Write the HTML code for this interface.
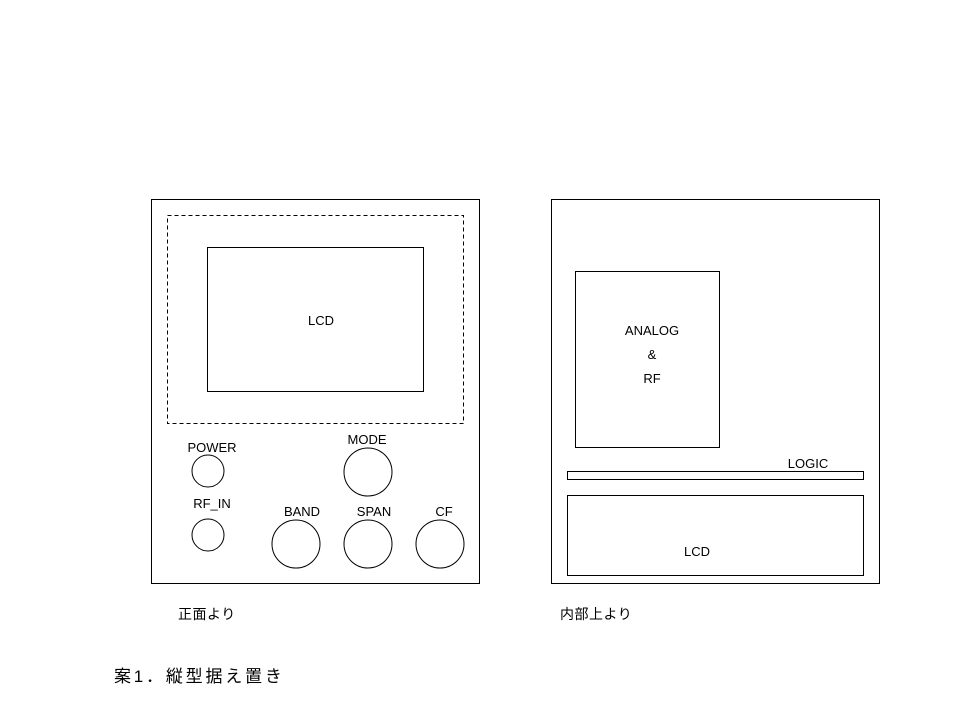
<!DOCTYPE html>
<html><head><meta charset="utf-8"><style>
html,body{margin:0;padding:0;background:#fff;}
svg{display:block;}
text{font-family:"Liberation Sans","Noto Sans CJK JP",sans-serif;font-size:13px;fill:#000;}
</style></head><body>
<svg width="960" height="720" viewBox="0 0 960 720" xmlns="http://www.w3.org/2000/svg">
<g fill="none" stroke="#000" stroke-width="1">
<rect x="151.5" y="199.5" width="328" height="384"/>
<rect x="167.5" y="215.5" width="296" height="208" stroke-dasharray="4,3"/>
<rect x="207.5" y="247.5" width="216" height="144"/>
<circle cx="208" cy="471" r="16"/>
<circle cx="208" cy="535" r="16"/>
<circle cx="368" cy="472" r="24"/>
<circle cx="296" cy="544" r="24"/>
<circle cx="368" cy="544" r="24"/>
<circle cx="440" cy="544" r="24"/>
<rect x="551.5" y="199.5" width="328" height="384"/>
<rect x="575.5" y="271.5" width="144" height="176"/>
<rect x="567.5" y="471.5" width="296" height="8"/>
<rect x="567.5" y="495.5" width="296" height="80"/>
</g>
<text x="321" y="325" text-anchor="middle">LCD</text>
<text x="212" y="452" text-anchor="middle">POWER</text>
<text x="212" y="508" text-anchor="middle">RF_IN</text>
<text x="367" y="444" text-anchor="middle">MODE</text>
<text x="302" y="516" text-anchor="middle">BAND</text>
<text x="374" y="516" text-anchor="middle">SPAN</text>
<text x="444" y="516" text-anchor="middle">CF</text>
<text x="652" y="335" text-anchor="middle">ANALOG</text>
<text x="652" y="359" text-anchor="middle">&amp;</text>
<text x="652" y="383" text-anchor="middle">RF</text>
<text x="808" y="468" text-anchor="middle">LOGIC</text>
<text x="697" y="556" text-anchor="middle">LCD</text>
<text x="178" y="619" style="font-size:14px;letter-spacing:0.5px">正面より</text>
<text x="560" y="619" style="font-size:14px;letter-spacing:0.5px">内部上より</text>
<text x="114" y="682" style="font-size:17px;letter-spacing:2.8px">案1．縦型据え置き</text>
</svg>
</body></html>
